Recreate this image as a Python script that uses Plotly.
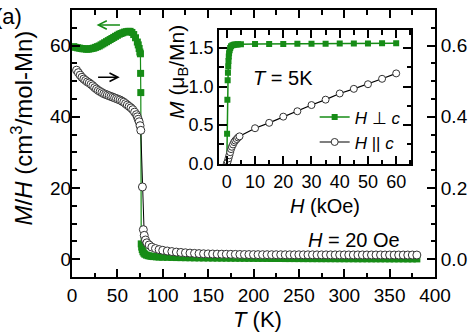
import plotly.graph_objects as go

# ---------------- data ----------------
# Main panel, H perpendicular c : M/H (cm^3/mol-Mn), left axis
T_perp = [2, 4, 6, 8, 10, 12, 14, 16, 18, 20, 22, 24, 26, 28, 30, 32, 34, 36, 38, 40,
          42, 44, 46, 48, 50, 52, 54, 56, 58, 60, 62, 64, 66, 68, 70, 72, 73, 74, 74.8,
          75.4, 75.6, 75.8, 76.3, 76.8, 77.4, 78.2, 79.2, 80.3, 82, 84, 86, 88, 90, 93,
          96, 100, 105, 110, 115, 120, 125, 130, 135, 140, 145, 150, 155, 160, 165, 170,
          175, 180, 185, 190, 195, 200, 205, 210, 215, 220, 225, 230, 235, 240, 245, 250,
          255, 260, 265, 270, 275, 280, 285, 290, 295, 300, 305, 310, 315, 320, 325, 330,
          335, 340, 345, 350, 355, 360, 365, 370, 375, 380]
MH_perp = [59.7, 59.5, 59.4, 59.3, 59.2, 59.1, 59.1, 59.0, 59.0, 59.1, 59.2, 59.3, 59.5,
           59.7, 59.9, 60.2, 60.5, 60.8, 61.1, 61.4, 61.7, 62.0, 62.3, 62.6, 62.9, 63.2,
           63.4, 63.6, 63.8, 63.9, 64.0, 64.0, 63.7, 63.1, 62.2, 61.0, 60.2, 59.2, 58.2,
           57.7, 52.2, 46.8, 4.3, 3.4, 2.7, 2.1, 1.7, 1.4, 1.15, 0.98, 0.88, 0.8, 0.73,
           0.66, 0.6, 0.55, 0.52, 0.49, 0.46, 0.44, 0.42, 0.40, 0.38, 0.36, 0.35, 0.34,
           0.32, 0.31, 0.30, 0.29, 0.28, 0.27, 0.26, 0.25, 0.24, 0.23, 0.22, 0.22, 0.21,
           0.20, 0.20, 0.19, 0.18, 0.18, 0.17, 0.17, 0.16, 0.16, 0.15, 0.15, 0.14, 0.14,
           0.14, 0.13, 0.13, 0.12, 0.12, 0.12, 0.11, 0.11, 0.11, 0.10, 0.10, 0.10, 0.10,
           0.09, 0.09, 0.09, 0.09, 0.08, 0.08, 0.08]

# Main panel, H parallel c : right axis
T_par = [5, 7, 9, 11, 13, 15, 17, 19, 21, 23, 25, 27, 29, 31, 33, 35, 37, 39, 41, 43,
         45, 47, 49, 51, 53, 55, 57, 59, 61, 63, 65, 67, 69, 71, 72, 73, 74, 75, 75.8,
         77.6, 78.6, 79.6, 81, 82.5, 85, 88, 92, 96, 100, 105, 110, 115, 120, 125, 130,
         135, 140, 145, 150, 155, 160, 165, 170, 175, 180, 185, 190, 195, 200, 205, 210,
         215, 220, 225, 230, 235, 240, 245, 250, 255, 260, 265, 270, 275, 280, 285, 290,
         295, 300, 305, 310, 315, 320, 325, 330, 335, 340, 345, 350, 355, 360, 365, 370,
         375, 380]
MH_par = [0.531, 0.524, 0.517, 0.511, 0.506, 0.502, 0.498, 0.495, 0.491, 0.487, 0.482,
          0.478, 0.474, 0.471, 0.468, 0.465, 0.463, 0.461, 0.459, 0.457, 0.455, 0.453,
          0.451, 0.449, 0.447, 0.444, 0.441, 0.437, 0.433, 0.429, 0.425, 0.420, 0.413,
          0.406, 0.400, 0.393, 0.386, 0.375, 0.362, 0.203, 0.083, 0.067, 0.054, 0.046,
          0.040, 0.034, 0.030, 0.027, 0.025, 0.023, 0.0215, 0.020, 0.019, 0.018, 0.0172,
          0.0164, 0.0158, 0.0153, 0.0149, 0.0146, 0.0143, 0.0141, 0.0139, 0.0137, 0.0135,
          0.0133, 0.0131, 0.0130, 0.0129, 0.0128, 0.0127, 0.0127, 0.0126, 0.0126, 0.0125,
          0.0125, 0.0124, 0.0124, 0.0124, 0.0123, 0.0123, 0.0123, 0.0122, 0.0122, 0.0122,
          0.0121, 0.0121, 0.0121, 0.0121, 0.0120, 0.0120, 0.0120, 0.0120, 0.0119, 0.0119,
          0.0119, 0.0119, 0.0118, 0.0118, 0.0118, 0.0118, 0.0117, 0.0117, 0.0117, 0.0117,
          0.0117]

# Inset, T = 5 K : M (muB/Mn) vs H (kOe)
H_perp = [0, 0.1, 0.2, 0.3, 0.4, 0.5, 0.6, 0.7, 0.8, 1.0, 1.2, 1.5, 2.0, 2.5, 3.0, 3.5,
          4.0, 5, 10, 15, 20, 25, 30, 35, 40, 45, 50, 55, 60]
M_perp = [0.0, 0.39, 0.83, 1.08, 1.18, 1.26, 1.33, 1.39, 1.43, 1.47, 1.50, 1.52, 1.535,
          1.54, 1.543, 1.545, 1.547, 1.548, 1.550, 1.551, 1.552, 1.553, 1.554, 1.555,
          1.556, 1.557, 1.558, 1.559, 1.560]
H_par = [0, 0.3, 0.6, 0.9, 1.2, 1.5, 1.8, 2.2, 2.6, 3.0, 3.5, 4.0, 4.5, 10, 15, 20, 25,
         30, 35, 40, 45, 50, 55, 60]
M_par = [0.0, 0.03, 0.07, 0.11, 0.15, 0.19, 0.22, 0.25, 0.28, 0.30, 0.32, 0.34, 0.355,
         0.46, 0.53, 0.61, 0.68, 0.76, 0.83, 0.91, 0.97, 1.03, 1.10, 1.17]

# ---------------- styling ----------------
GREEN = '#168c16'
FONT = 'Liberation Sans, Arial, sans-serif'
W, H = 476, 334
ML, MR, MT, MB = 72, 39, 8, 57
PW, PH = W - ML - MR, H - MT - MB


def px(xp, yp):
    """pixel position -> paper coordinates"""
    return (xp - ML) / PW, (H - MB - yp) / PH


def axis(size=19, **kw):
    d = dict(showline=True, linecolor='black', linewidth=2, ticks='inside', ticklen=8,
             tickwidth=1.5, tickcolor='black', showgrid=False, zeroline=False,
             tickfont=dict(size=size, color='black', family=FONT))
    d.update(kw)
    return d


def minor(dt):
    return dict(ticks='inside', ticklen=4.5, tickwidth=1.5, tickcolor='black', dtick=dt,
                showgrid=False)


fig = go.Figure()
fig.add_trace(go.Scatter(x=T_perp, y=MH_perp, mode='lines+markers', showlegend=False,
                         line=dict(color=GREEN, width=1.2),
                         marker=dict(symbol='square', size=7, color=GREEN),
                         xaxis='x', yaxis='y'))
fig.add_trace(go.Scatter(x=T_par, y=MH_par, mode='lines+markers', showlegend=False,
                         line=dict(color='black', width=1),
                         marker=dict(symbol='circle', size=8, color='white',
                                     line=dict(color='#333333', width=1)),
                         xaxis='x', yaxis='y2'))
fig.add_trace(go.Scatter(x=H_perp, y=M_perp, mode='lines+markers',
                         name='<i>H</i> ⊥ <i>c</i>',
                         line=dict(color=GREEN, width=1.5),
                         marker=dict(symbol='square', size=6, color=GREEN),
                         xaxis='x2', yaxis='y3'))
fig.add_trace(go.Scatter(x=H_par, y=M_par, mode='lines+markers',
                         name='<i>H</i> || <i>c</i>',
                         line=dict(color='black', width=1.2),
                         marker=dict(symbol='circle', size=7, color='white',
                                     line=dict(color='#333333', width=1)),
                         xaxis='x2', yaxis='y3'))

ix0, iy1 = px(220, 28.3)
ix1, iy0 = px(413.3, 163.3)

fig.update_layout(
    width=W, height=H, margin=dict(l=ML, r=MR, t=MT, b=MB),
    paper_bgcolor='white', plot_bgcolor='white',
    font=dict(family=FONT, color='black'),
    xaxis=axis(range=[0, 400], dtick=50, tick0=0, minor=minor(25), mirror='ticks',
               domain=[0, 1], anchor='y'),
    yaxis=axis(range=[-5, 70], dtick=20, tick0=0, minor=minor(5), anchor='x',
               ticklabelstandoff=-5),
    yaxis2=axis(range=[-0.05, 0.7], dtick=0.2, tick0=0, tickformat='.1f',
                minor=minor(0.05), overlaying='y', side='right', anchor='x'),
    xaxis2=axis(size=18, range=[-2.7, 65.4], dtick=10, tick0=0, minor=minor(5),
                mirror='ticks', domain=[ix0, ix1], anchor='y3'),
    yaxis3=axis(size=18, range=[-0.005, 1.73], dtick=0.5, tick0=0, tickformat='.1f',
                minor=minor(0.25), mirror='ticks', domain=[iy0, iy1], anchor='x2'),
    legend=dict(x=px(316, 0)[0], y=px(0, 98)[1], xanchor='left', yanchor='top',
                bgcolor='rgba(0,0,0,0)', font=dict(size=17, family=FONT),
                tracegroupgap=0),
)

ann = []


def text(t, xp, yp, size, angle=0, anchor='center'):
    x, y = px(xp, yp)
    ann.append(dict(text=t, x=x, y=y, xref='paper', yref='paper', showarrow=False,
                    xanchor=anchor, yanchor='middle', textangle=angle,
                    font=dict(size=size, family=FONT, color='black')))


text('(a)', -7, 15, 22, anchor='left')
text('<i>M</i>/<i>H</i> (cm<sup>3</sup>/mol-Mn)', 22, 127, 24, angle=-90)
text('<i>T</i> (K)', 259, 320, 22)
text('<i>M</i> (μ<sub>B</sub>/Mn)', 178, 70, 21, angle=-90)
text('<i>H</i> (kOe)', 326, 205, 20)

ann.append(dict(text='<i>T</i> = 5K', x=20, y=1.11, xref='x2', yref='y3',
                showarrow=False, font=dict(size=20, family=FONT, color='black')))
ann.append(dict(text='<i>H</i> = 20 Oe', x=310.7, y=5.3, xref='x', yref='y',
                showarrow=False, font=dict(size=20, family=FONT, color='black')))
# direction arrows (which axis each curve belongs to)
ann.append(dict(text='', x=27.1, y=65.8, ax=54.5, ay=65.8, xref='x', yref='y',
                axref='x', ayref='y', showarrow=True, arrowhead=5, arrowsize=1.1,
                arrowwidth=1.5, arrowcolor=GREEN))
ann.append(dict(text='', x=52.6, y=51.1, ax=27.1, ay=51.1, xref='x', yref='y',
                axref='x', ayref='y', showarrow=True, arrowhead=5, arrowsize=1.1,
                arrowwidth=1.5, arrowcolor='black'))
fig.update_layout(annotations=ann)

fig.write_html('out.html')
